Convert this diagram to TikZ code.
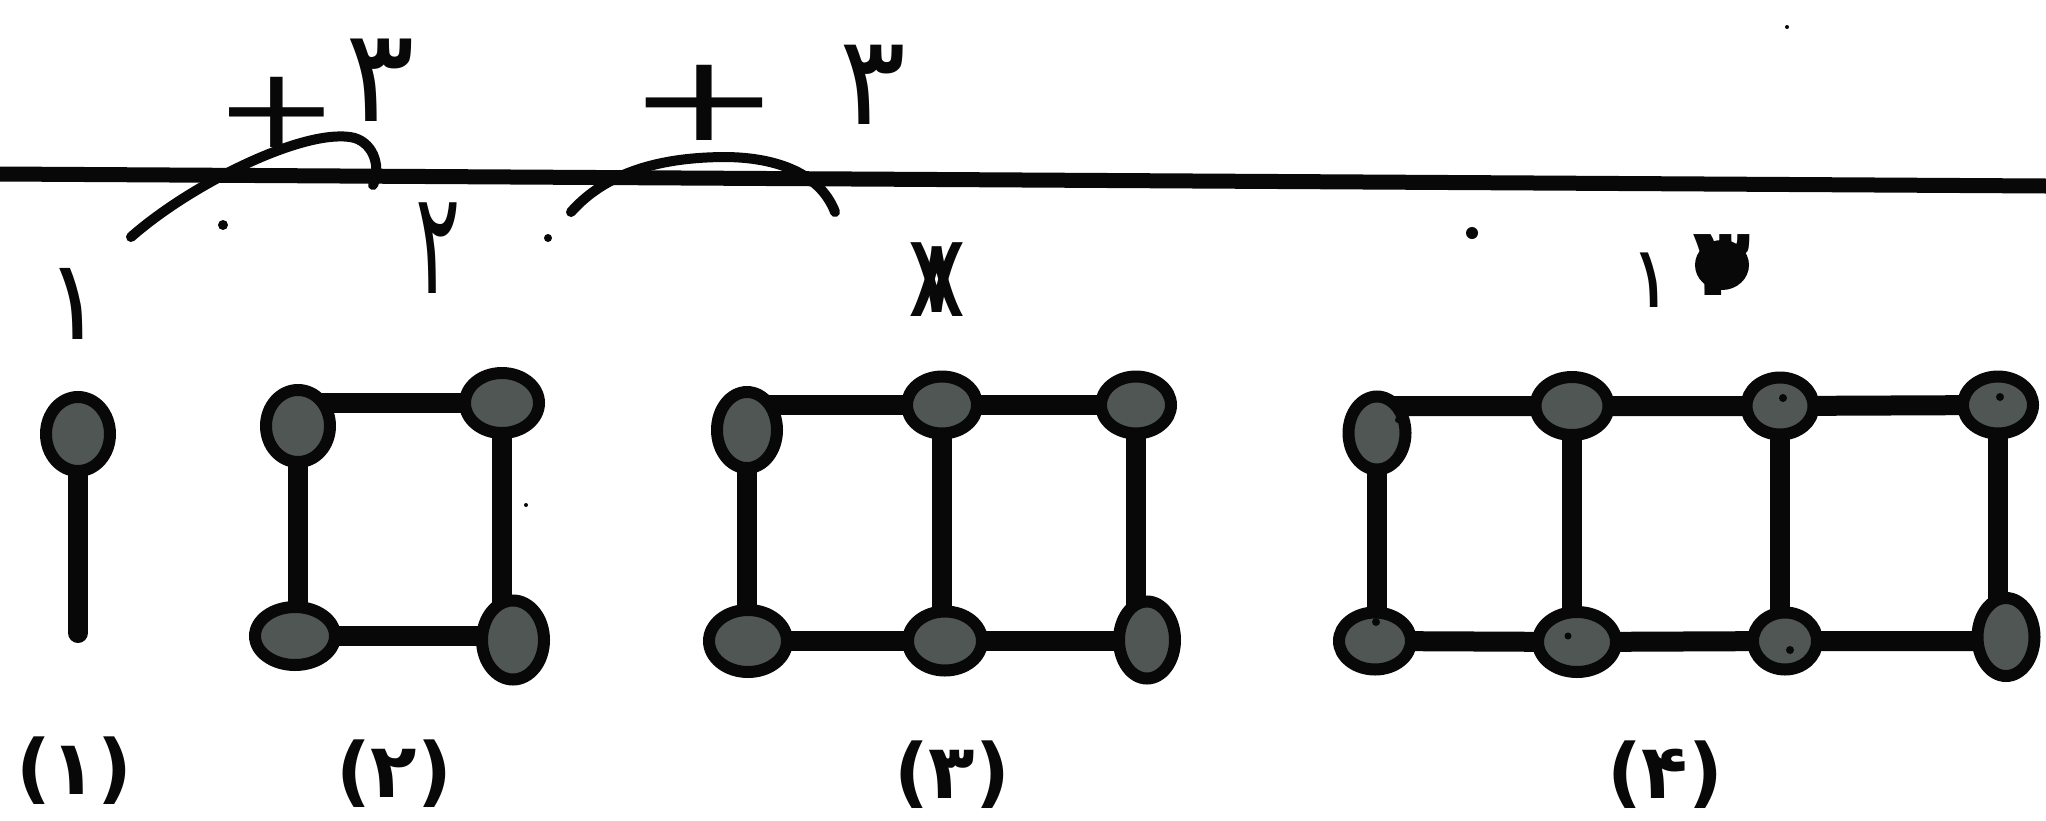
\documentclass[tikz,border=0pt]{standalone}
\usepackage{fontspec}
\setmainfont{DejaVu Sans}
\usetikzlibrary{shapes.geometric,backgrounds}
\definecolor{ballgray}{RGB}{80,86,83}
\definecolor{ink}{RGB}{8,8,8}
\tikzset{
  ball/.style 2 args={ellipse, draw=ink, fill=ballgray, line width=12pt, inner sep=0pt, minimum width=#1, minimum height=#2},
  bar/.style={line width=20pt, draw=ink},
  lbl/.style={font=\fontsize{76}{76}\selectfont\bfseries, inner sep=0pt, text=ink},
  hand/.style={font=\fontsize{130}{130}\selectfont, inner sep=0pt, text=ink},
  pen/.style={line width=10pt, draw=ink, line cap=round},
  speck/.style={circle, fill=ink, inner sep=0pt, minimum size=#1},
}
\begin{document}
\begin{tikzpicture}[x=1pt,y=-1pt]
\useasboundingbox (0,0) rectangle (2046,820);

% rule
\coordinate (ruleL) at (0,174);
\coordinate (ruleR) at (2046,186);
\draw[line width=15pt, ink] (ruleL) -- (ruleR);

% handwriting
\node[hand, font=\fontsize{112}{112}\selectfont] (plusA) at (277,112) {\scalebox{1.35}[1]{+}};
\node[hand] (threeA) at (380,80) {۳};
\node[hand] (twoA) at (438,248) {\scalebox{0.65}[1.1]{۲}};
\node[hand, font=\fontsize{120}{120}\selectfont] (plusB) at (704,103) {\scalebox{1.55}[1]{+}};
\node[hand, font=\fontsize{125}{125}\selectfont] (threeB) at (873,85) {۳};
\node[hand, font=\fontsize{110}{110}\selectfont] (sevenC) at (937,278) {۷};
\node[hand, font=\fontsize{110}{110}\selectfont] (eightC) at (937,282) {۸};
\node[hand, font=\fontsize{112}{112}\selectfont] (oneA) at (75,304) {۱};
\node[hand, font=\fontsize{86}{86}\selectfont] (oneD) at (1652,280) {۱};
\node[hand, font=\fontsize{96}{96}\selectfont\bfseries] (threeD) at (1722,265) {۳};
\fill[ink] (threeD.center) ellipse [x radius=27pt, y radius=25pt];

\coordinate (arcAs) at (131,237);
\coordinate (arcAe) at (373,185);
\draw[pen] (arcAs) .. controls (190,185) and (300,130) .. (350,137) .. controls (372,140) and (382,165) .. (arcAe);
\coordinate (arcBs) at (571,212);
\coordinate (arcBe) at (835,212);
\draw[pen] (arcBs) .. controls (610,168) and (670,157) .. (727,157) .. controls (785,158) and (822,178) .. (arcBe);

\node[speck=10pt] (d1) at (223,225) {};
\node[speck=8pt] (d2) at (548,238) {};
\node[speck=12pt] (d3) at (1472,233) {};
\node[speck=4pt] (d4) at (1787,27) {};
\node[speck=4pt] (d5) at (526,505) {};

% figure 1
\node[ball={64pt}{74pt}] (p1) at (78,434) {};
\coordinate (p1end) at (78,633);

% figure 2
\node[ball={64pt}{72pt}] (q1) at (298,426) {};
\node[ball={74pt}{60pt}] (q2) at (502,403) {};
\node[ball={80pt}{58pt}] (q3) at (295,636) {};
\node[ball={62pt}{79pt}] (q4) at (513,640) {};

% figure 3
\node[ball={60pt}{76pt}] (r1) at (747,430) {};
\node[ball={70pt}{57pt}] (r2) at (942,405) {};
\node[ball={70pt}{57pt}] (r3) at (1136,405) {};
\node[ball={78pt}{62pt}] (r4) at (748,641) {};
\node[ball={74pt}{59pt}] (r5) at (945,641) {};
\node[ball={56pt}{77pt}] (r6) at (1147,640) {};

% figure 4
\node[ball={57pt}{73pt}] (s1) at (1377,433) {};
\node[ball={73pt}{58pt}] (s2) at (1572,406) {};
\node[ball={67pt}{57pt}] (s3) at (1780,406) {};
\node[ball={70pt}{57pt}] (s4) at (1998,405) {};
\node[ball={72pt}{57pt}] (s5) at (1375,641) {};
\node[ball={78pt}{60pt}] (s6) at (1577,642) {};
\node[ball={64pt}{57pt}] (s7) at (1785,641) {};
\node[ball={57pt}{78pt}] (s8) at (2006,637) {};

\node[speck=8pt] (k1) at (1783,398) {};
\node[speck=8pt] (k2) at (2000,397) {};
\node[speck=8pt] (k3) at (1376,622) {};
\node[speck=7pt] (k4) at (1568,636) {};
\node[speck=8pt] (k5) at (1790,650) {};
\node[speck=6pt] (k6) at (1398,420) {};

% labels
\node[lbl] (L1) at (74,771) {(۱)};
\node[lbl] (L2) at (394,774) {(۲)};
\node[lbl] (L3) at (952,775) {(۳)};
\node[lbl] (L4) at (1665,775) {(۴)};

\begin{pgfonlayer}{background}
\fill[white] (0,0) rectangle (2046,820);
\draw[bar, line cap=round] (p1.center) -- (p1end);
% fig 2
\draw[bar] (q1.center |- q2.center) -- (q2.center);
\draw[bar] (q1.center) -- (q1.center |- q3.center);
\draw[bar] (q2.center) -- (q2.center |- q4.center);
\draw[bar] (q3.center) -- (q3.center -| q4.center);
% fig 3
\draw[bar] (r1.center |- r2.center) -- (r2.center) -- (r3.center);
\draw[bar] (r1.center) -- (r1.center |- r4.center);
\draw[bar] (r2.center) -- (r2.center |- r5.center);
\draw[bar] (r3.center) -- (r3.center |- r6.center);
\draw[bar] (r4.center) -- (r5.center) -- (r5.center -| r6.center);
% fig 4
\draw[bar] (s1.center |- s2.center) -- (s2.center) -- (s3.center) -- (s4.center);
\draw[bar] (s1.center) -- (s1.center |- s5.center);
\draw[bar] (s2.center) -- (s2.center |- s6.center);
\draw[bar] (s3.center) -- (s3.center |- s7.center);
\draw[bar] (s4.center) -- (s4.center |- s8.center);
\draw[bar] (s5.center) -- (s6.center) -- (s7.center) -- (s7.center -| s8.center);
\end{pgfonlayer}
\end{tikzpicture}
\end{document}
